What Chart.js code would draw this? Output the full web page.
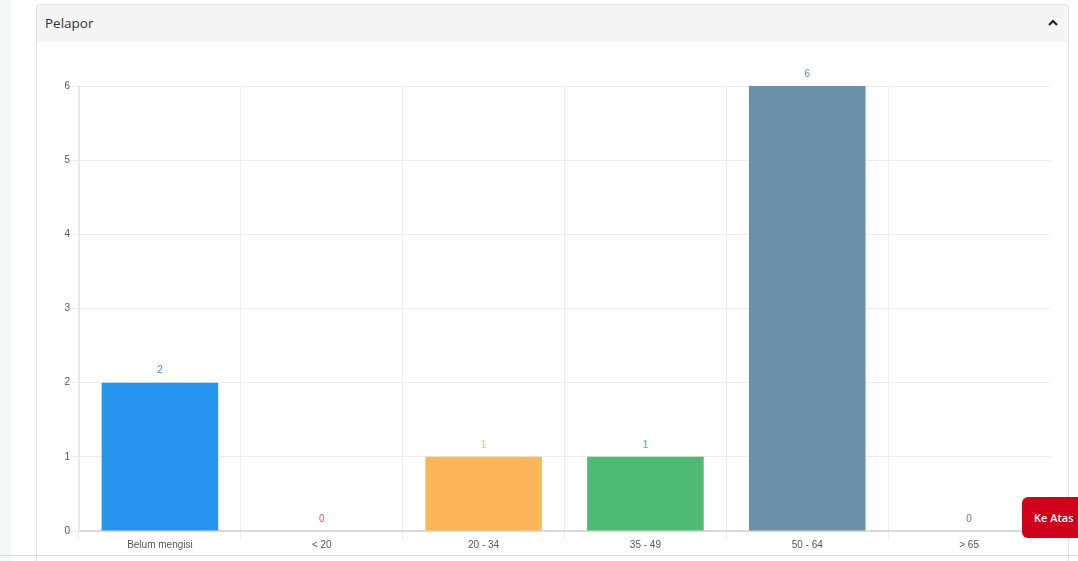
<!DOCTYPE html>
<html>
<head>
<meta charset="utf-8">
<script src="https://cdn.jsdelivr.net/npm/chart.js@4/dist/chart.umd.min.js"></script>
<style>
  html, body { margin:0; padding:0; width:1078px; height:561px; overflow:hidden; background:#fff; font-family:"Open Sans", sans-serif; }
  .strip { position:absolute; left:0; top:0; width:11px; height:561px; background:#f5f6f8; }
  .card { position:absolute; left:36px; top:4px; width:1033px; height:600px; border:1px solid #e2e2e2; border-radius:3px; background:#fff; box-sizing:border-box; }
  .head { position:absolute; left:0; top:0; right:0; height:37px; background:#f4f4f4; border-radius:3px 3px 0 0; }
  .title { position:absolute; left:8px; top:9px; font-size:13.5px; color:#333; }
  .chev { position:absolute; right:9px; top:12px; width:12px; height:12px; }
  .bottomline { position:absolute; left:0; top:555px; width:1078px; height:1px; background:#dcdcdc; }
  .wrap { position:absolute; left:39px; top:50px; width:1020px; height:500px; }
  .btn { position:absolute; left:1022px; top:497px; width:64px; height:41px; background:#d0021b; border-radius:6px; color:#fff; font-family:"Open Sans", sans-serif; font-size:11px; font-weight:600; line-height:41px; padding-left:12px; box-sizing:border-box; }
</style>
</head>
<body>
<div class="strip"></div>
<div class="card">
  <div class="head">
    <div class="title">Pelapor</div>
    <svg class="chev" viewBox="0 0 12 12"><path d="M2 8 L6 4 L10 8" stroke="#222" stroke-width="2.2" fill="none"/></svg>
  </div>
</div>
<div class="bottomline"></div>
<div class="wrap"><canvas id="c" width="1020" height="500"></canvas></div>
<div class="btn">Ke Atas</div>
<script>
const categories = ['Belum mengisi', '< 20', '20 - 34', '35 - 49', '50 - 64', '> 65'];
const values = [2, 0, 1, 1, 6, 0];
const barColors = ['#2795ee', '#f5515f', '#fbb65a', '#4fba74', '#6b90aa', '#777777'];
const yTicks = [0, 1, 2, 3, 4, 5, 6];

const valueLabels = {
  id: 'valueLabels',
  afterDatasetsDraw(chart) {
    const ctx = chart.ctx;
    const meta = chart.getDatasetMeta(0);
    ctx.save();
    ctx.font = '10px "Liberation Sans", Arial, sans-serif';
    ctx.textAlign = 'center';
    ctx.textBaseline = 'bottom';
    meta.data.forEach((bar, i) => {
      ctx.fillStyle = barColors[i];
      ctx.fillText(String(values[i]), bar.x, bar.y - 7);
    });
    ctx.restore();
  }
};

new Chart(document.getElementById('c'), {
  type: 'bar',
  data: {
    labels: categories,
    datasets: [{
      data: values,
      backgroundColor: barColors,
      borderWidth: 0
    }]
  },
  options: {
    responsive: false,
    animation: false,
    layout: { padding: { top: 36, right: 9, left: 0, bottom: 0 } },
    plugins: { legend: { display: false }, tooltip: { enabled: false } },
    scales: {
      x: {
        grid: {
          offset: true,
          color: (c) => (c.tick ? '#ececec' : 'rgba(0,0,0,0)'),
          tickLength: 8
        },
        border: { color: '#d9d9d9', width: 2 },
        ticks: { color: '#555', font: { family: '"Liberation Sans", Arial, sans-serif', size: 10 }, padding: 0, maxRotation: 0 },
        afterFit: (s) => { s.height = 19; }
      },
      y: {
        min: 0, max: 6,
        afterBuildTicks: (s) => { s.ticks = yTicks.map(v => ({ value: v })); },
        grid: { color: '#ececec', tickLength: 8 },
        border: { color: '#e6e6e6', width: 1 },
        ticks: { color: '#555', font: { family: '"Liberation Sans", Arial, sans-serif', size: 10 }, padding: 1 },
        afterFit: (s) => { s.width = 40; }
      }
    }
  },
  plugins: [valueLabels]
});
</script>
</body>
</html>
